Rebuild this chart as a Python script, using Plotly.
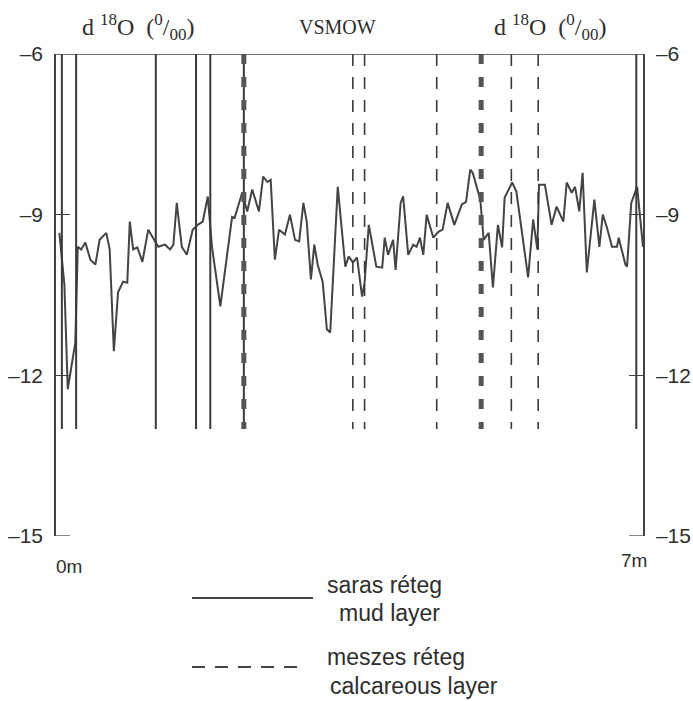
import plotly.graph_objects as go

# depth (m) and d18O values
depth_m = [0.04, 0.10, 0.14, 0.23, 0.26, 0.30, 0.35, 0.41, 0.47, 0.52, 0.60, 0.64, 0.69, 0.74, 0.80,
           0.85, 0.88, 0.92, 0.97, 1.03, 1.10, 1.18, 1.22, 1.30, 1.36, 1.40, 1.44, 1.50, 1.56, 1.63,
           1.69, 1.75, 1.81, 1.86, 1.96, 2.10, 2.13, 2.22, 2.28, 2.34, 2.42, 2.47, 2.52, 2.56, 2.61,
           2.66, 2.73, 2.79, 2.85, 2.90, 2.95, 2.99, 3.04, 3.08, 3.12, 3.18, 3.23, 3.27, 3.36, 3.45,
           3.49, 3.54, 3.59, 3.65, 3.68, 3.73, 3.82, 3.89, 3.92, 3.96, 4.02, 4.05, 4.11, 4.14, 4.20,
           4.26, 4.30, 4.34, 4.38, 4.42, 4.50, 4.56, 4.61, 4.67, 4.75, 4.84, 4.89, 4.94, 4.97, 5.06,
           5.10, 5.16, 5.21, 5.27, 5.32, 5.35, 5.44, 5.49, 5.56, 5.63, 5.69, 5.74, 5.76, 5.83, 5.91,
           5.97, 6.05, 6.09, 6.15, 6.19, 6.24, 6.28, 6.33, 6.42, 6.48, 6.52, 6.57, 6.63, 6.69, 6.71,
           6.79, 6.81, 6.86, 6.93, 7.00]
d18o = [-9.34, -10.30, -12.26, -11.39, -9.60, -9.65, -9.52, -9.84, -9.93, -9.47, -9.34, -9.65, -11.55, -10.45, -10.25,
        -10.27, -9.13, -9.65, -9.61, -9.88, -9.28, -9.50, -9.60, -9.56, -9.65, -9.56, -8.78, -9.60, -9.75, -9.28,
        -9.19, -9.13, -8.66, -9.60, -10.71, -9.04, -9.06, -8.59, -8.94, -8.53, -8.94, -8.29, -8.39, -8.35, -9.84,
        -9.28, -9.37, -9.00, -9.47, -9.50, -8.78, -9.13, -10.21, -9.56, -9.93, -10.25, -11.14, -11.20, -8.48, -9.97,
        -9.78, -9.89, -9.80, -10.53, -10.27, -9.19, -9.97, -9.99, -9.43, -9.75, -9.47, -10.03, -8.78, -8.66, -9.75,
        -9.56, -9.60, -9.43, -9.75, -9.00, -9.43, -9.32, -9.28, -8.78, -9.19, -8.81, -8.76, -8.16, -8.22, -8.72,
        -9.47, -9.34, -10.36, -9.19, -9.61, -8.68, -8.40, -8.57, -9.41, -10.17, -9.09, -9.65, -8.44, -8.44, -9.19,
        -8.85, -9.13, -8.40, -8.59, -8.48, -8.94, -8.22, -10.08, -8.72, -9.60, -9.00, -9.24, -9.60, -9.60, -9.43,
        -9.93, -9.97, -8.78, -8.48, -9.60]

mud_layers = [0.07, 0.24, 1.19, 1.67, 1.84, 2.24, 6.92]        # solid lines
calc_layers = [3.54, 3.68, 4.54, 5.43, 5.75]                   # thin dashed
calc_thick = [2.24, 5.07]                                      # thick dashed
layer_top, layer_bottom = -6, -13
x_min, x_max = 0, 7
y_min, y_max = -15, -6

tick_vals = [-6, -9, -12, -15]
tick_text = ["\u20136", "\u20139", "\u201312", "\u201315"]

LC = "#444444"
TC = "#2e2e2e"
fig = go.Figure()
fig.add_trace(go.Scatter(x=depth_m, y=d18o, mode="lines",
                         line=dict(color=LC, width=2), showlegend=False, hoverinfo="skip"))
fig.add_trace(go.Scatter(x=[x_min, x_max], y=[y_min, y_max], yaxis="y2", mode="markers",
                         marker=dict(opacity=0), showlegend=False, hoverinfo="skip"))

shapes = []
for xv in mud_layers:
    shapes.append(dict(type="line", xref="x", yref="y", x0=xv, x1=xv, y0=layer_top, y1=layer_bottom,
                       line=dict(color="#3a3a3a", width=2)))
for xv in calc_layers:
    shapes.append(dict(type="line", xref="x", yref="y", x0=xv, x1=xv, y0=layer_top, y1=layer_bottom,
                       line=dict(color="#3a3a3a", width=1.6, dash="12px,11px")))
for xv in calc_thick:
    shapes.append(dict(type="line", xref="x", yref="y", x0=xv, x1=xv, y0=layer_top, y1=layer_bottom,
                       line=dict(color="#555555", width=5, dash="10px,13px")))
# top border
shapes.append(dict(type="line", xref="x", yref="y", x0=x_min, x1=x_max, y0=y_max, y1=y_max,
                   line=dict(color=LC, width=1.5)))
# bottom corner ticks
shapes.append(dict(type="line", xref="x", yref="y", xsizemode="pixel", xanchor=x_min, x0=0, x1=14,
                   y0=y_min, y1=y_min, line=dict(color=LC, width=1.3)))
shapes.append(dict(type="line", xref="x", yref="y", xsizemode="pixel", xanchor=x_max, x0=-14, x1=0,
                   y0=y_min, y1=y_min, line=dict(color=LC, width=1.3)))
# legend samples
shapes.append(dict(type="line", xref="paper", yref="paper", x0=0.2317, x1=0.4378, y0=-0.1286, y1=-0.1286,
                   line=dict(color=LC, width=2)))
shapes.append(dict(type="line", xref="paper", yref="paper", x0=0.2317, x1=0.4123, y0=-0.2718, y1=-0.2718,
                   line=dict(color=LC, width=2, dash="13px,10px")))

serif = "Liberation Serif"
sans = "Liberation Sans"
S = "<span style='font-size:17px'>{}</span>"
title_txt = ("d <sup>" + S.format("18") + "</sup>O\u00a0 (<sup>" + S.format("0") +
             "</sup>/<sub>" + S.format("00") + "</sub>)")


def ann(text, x, y, size, family=sans, xref="paper", xanchor="center", xshift=0):
    return dict(text=text, x=x, y=y, xref=xref, yref="paper", xanchor=xanchor, yanchor="middle",
                xshift=xshift, showarrow=False, font=dict(family=family, size=size, color=TC))


annotations = [
    ann(title_txt, 0.1397, 1.056, 24, serif),
    ann("VSMOW", 0.4804, 1.056, 20, serif),
    ann(title_txt, 0.8416, 1.056, 24, serif),
    ann("0m", x_min, -0.064, 19, xref="x", xanchor="left", xshift=-2),
    ann("7m", x_max, -0.050, 19, xref="x", xanchor="right", xshift=6),
    ann("saras réteg", 0.4583, -0.1017, 23, xanchor="left"),
    ann("mud layer", 0.4787, -0.1598, 23, xanchor="left"),
    ann("meszes réteg", 0.4583, -0.2510, 23, xanchor="left"),
    ann("calcareous layer", 0.4634, -0.3112, 23, xanchor="left"),
]

yax = dict(range=[y_min, y_max], tickvals=tick_vals, ticktext=tick_text, ticks="inside", ticklen=14,
           tickwidth=1.2, tickcolor=LC, showline=True, linecolor=LC, linewidth=1.5,
           showgrid=False, zeroline=False, tickfont=dict(family=sans, size=21, color=TC),
           ticklabelstandoff=7, automargin=False)

fig.update_layout(
    width=693, height=701,
    margin=dict(l=56, r=50, t=54, b=165),
    paper_bgcolor="white", plot_bgcolor="white",
    xaxis=dict(range=[x_min, x_max], visible=False, automargin=False),
    yaxis=yax,
    yaxis2=dict(**yax, overlaying="y", side="right"),
    shapes=shapes,
    annotations=annotations,
    showlegend=False,
)
fig.write_html("out.html", config={"displayModeBar": False},
               post_script="document.body.style.margin='0';")
